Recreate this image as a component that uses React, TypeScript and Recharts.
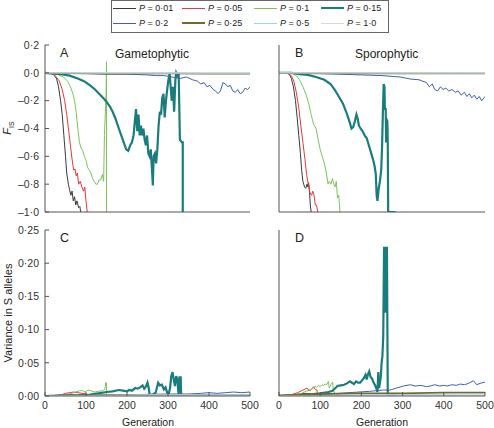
import React from 'react';
import { LineChart, Line, XAxis, YAxis } from 'recharts';

type Pt = [number, number];

// series labels (value of P)
const pLabels = ['0·01', '0·05', '0·1', '0·15', '0·2', '0·25', '0·5', '1·0'];

// x axis: generation
const genTicks = [0, 100, 200, 300, 400, 500];
const fisTicks = [-1, -0.8, -0.6, -0.4, -0.2, 0, 0.2];
const varTicks = [0, 0.05, 0.1, 0.15, 0.2, 0.25];

// ---- A: gametophytic, F_IS ----
const gamF01: Pt[] = [[0, 0], [10, 0], [20, -0.01], [28, -0.04], [33, -0.1], [38, -0.2], [42, -0.3], [46, -0.45], [50, -0.6], [53, -0.72], [57, -0.8], [60, -0.84], [63, -0.88], [66, -0.85], [69, -0.92], [72, -0.89], [75, -0.95], [78, -0.92], [82, -0.97], [85, -0.96], [87, -1]];
const gamF05: Pt[] = [[0, 0], [15, 0], [25, -0.02], [35, -0.06], [42, -0.12], [48, -0.2], [53, -0.3], [58, -0.42], [62, -0.52], [66, -0.62], [70, -0.7], [73, -0.69], [76, -0.74], [79, -0.72], [82, -0.8], [86, -0.78], [90, -0.82], [94, -0.85], [97, -0.82], [100, -0.92], [103, -1]];
const gamF1: Pt[] = [[0, 0], [30, -0.01], [45, -0.03], [55, -0.06], [62, -0.1], [68, -0.15], [72, -0.2], [76, -0.28], [80, -0.4], [84, -0.5], [88, -0.54], [92, -0.56], [96, -0.6], [100, -0.63], [104, -0.68], [108, -0.7], [112, -0.72], [116, -0.76], [120, -0.78], [124, -0.8], [128, -0.8], [132, -0.77], [136, -0.77], [140, -0.73], [143, -0.78], [145, -0.45], [147, -0.3], [149, -0.15], [150, 0.08], [150, -1]];
const gamF15: Pt[] = [[0, 0], [20, -0.005], [40, -0.01], [60, -0.02], [80, -0.04], [95, -0.06], [110, -0.09], [122, -0.12], [135, -0.16], [148, -0.2], [158, -0.24], [165, -0.28], [172, -0.33], [180, -0.4], [186, -0.45], [192, -0.5], [198, -0.55], [203, -0.56], [208, -0.52], [212, -0.5], [216, -0.45], [219, -0.35], [222, -0.26], [225, -0.42], [228, -0.3], [231, -0.45], [234, -0.38], [237, -0.45], [240, -0.4], [243, -0.48], [246, -0.52], [249, -0.45], [252, -0.58], [255, -0.6], [258, -0.55], [261, -0.7], [263, -0.81], [265, -0.6], [268, -0.58], [271, -0.65], [274, -0.55], [277, -0.38], [280, -0.28], [283, -0.3], [286, -0.18], [289, -0.15], [292, -0.32], [295, -0.2], [298, -0.12], [301, -0.05], [304, 0], [306, -0.08], [309, -0.2], [312, -0.1], [315, -0.28], [318, -0.05], [320, 0], [323, -0.02], [326, 0], [329, -0.48], [334, -0.5], [336, -0.5], [336, -1]];
const gamF2: Pt[] = [[0, 0], [50, -0.005], [100, -0.005], [150, -0.01], [200, -0.01], [250, -0.015], [270, -0.02], [290, -0.02], [310, -0.03], [330, -0.04], [345, -0.03], [360, -0.05], [372, -0.06], [380, -0.08], [388, -0.07], [395, -0.1], [402, -0.09], [410, -0.12], [416, -0.13], [422, -0.15], [428, -0.13], [434, -0.07], [440, -0.08], [446, -0.1], [452, -0.09], [458, -0.13], [464, -0.14], [470, -0.12], [476, -0.15], [482, -0.14], [488, -0.11], [494, -0.12], [500, -0.1]];
const gamF25: Pt[] = [[0, 0], [100, -0.004], [200, -0.005], [300, -0.004], [400, -0.005], [500, -0.005]];
const gamF5: Pt[] = [[0, 0], [150, -0.002], [300, -0.003], [500, -0.003]];
const gamF10: Pt[] = [[0, 0], [250, 0], [500, 0]];

// ---- B: sporophytic, F_IS ----
const spoF01: Pt[] = [[0, 0], [15, 0], [25, -0.01], [30, -0.04], [35, -0.1], [40, -0.2], [44, -0.32], [48, -0.45], [52, -0.58], [55, -0.7], [58, -0.78], [62, -0.82], [65, -0.83], [68, -0.8], [70, -0.82], [72, -0.79], [74, -0.85], [76, -0.95], [78, -1]];
const spoF05: Pt[] = [[0, 0], [20, 0], [30, -0.02], [36, -0.06], [42, -0.14], [48, -0.25], [53, -0.38], [58, -0.5], [63, -0.62], [67, -0.73], [71, -0.8], [75, -0.86], [79, -0.88], [82, -0.85], [85, -0.88], [88, -0.95], [91, -0.95], [94, -1]];
const spoF1: Pt[] = [[0, 0], [30, 0], [42, -0.02], [50, -0.05], [58, -0.1], [65, -0.15], [72, -0.22], [78, -0.3], [84, -0.37], [90, -0.4], [95, -0.48], [100, -0.55], [105, -0.6], [110, -0.65], [115, -0.72], [119, -0.8], [122, -0.78], [126, -0.8], [130, -0.76], [133, -0.8], [136, -0.82], [139, -0.78], [142, -0.9], [145, -0.88], [148, -1]];
const spoF15: Pt[] = [[0, 0], [30, 0], [50, -0.01], [70, -0.015], [90, -0.03], [110, -0.05], [125, -0.08], [135, -0.12], [145, -0.17], [155, -0.22], [163, -0.28], [170, -0.34], [176, -0.4], [180, -0.39], [184, -0.35], [188, -0.3], [191, -0.33], [194, -0.38], [198, -0.4], [203, -0.42], [208, -0.45], [213, -0.47], [218, -0.52], [223, -0.57], [228, -0.62], [232, -0.67], [235, -0.73], [237, -0.88], [239, -0.92], [242, -0.83], [245, -0.78], [248, -0.7], [250, -0.55], [252, -0.3], [254, -0.08], [256, -0.1], [257, -0.26], [259, -0.26], [260, -0.5], [261, -0.33], [263, -0.35], [264, -0.5], [265, -1], [283, -1]];
const spoF2: Pt[] = [[0, 0], [50, 0], [100, -0.005], [150, -0.01], [200, -0.015], [250, -0.02], [294, -0.03], [320, -0.045], [340, -0.05], [358, -0.07], [365, -0.1], [372, -0.08], [378, -0.12], [385, -0.13], [392, -0.1], [398, -0.12], [405, -0.11], [412, -0.13], [420, -0.12], [428, -0.14], [435, -0.13], [442, -0.16], [450, -0.14], [456, -0.17], [462, -0.15], [468, -0.18], [474, -0.16], [480, -0.19], [486, -0.17], [492, -0.2], [500, -0.17]];
const spoF25: Pt[] = [[0, 0], [100, -0.003], [200, -0.004], [300, -0.004], [400, -0.004], [500, -0.004]];
const spoF5: Pt[] = [[0, 0], [250, -0.002], [500, -0.002]];
const spoF10: Pt[] = [[0, 0], [250, 0], [500, 0]];

// ---- C: gametophytic, variance in S alleles ----
const gamV01: Pt[] = [[0, 0], [20, 0.0005], [40, 0.001], [60, 0.002], [80, 0.001], [87, 0.001]];
const gamV05: Pt[] = [[0, 0], [20, 0.0005], [40, 0.002], [50, 0.004], [60, 0.005], [70, 0.006], [80, 0.005], [90, 0.004], [100, 0.003], [103, 0.002]];
const gamV1: Pt[] = [[0, 0], [30, 0.001], [50, 0.002], [65, 0.004], [75, 0.006], [85, 0.008], [92, 0.008], [98, 0.006], [105, 0.009], [112, 0.008], [120, 0.006], [130, 0.007], [140, 0.008], [146, 0.01], [148, 0.02], [150, 0.02], [150, 0.001]];
const gamV15: Pt[] = [[0, 0], [40, 0.0005], [80, 0.001], [110, 0.002], [130, 0.004], [150, 0.006], [165, 0.007], [180, 0.009], [190, 0.008], [200, 0.007], [205, 0.009], [212, 0.008], [220, 0.012], [226, 0.011], [232, 0.013], [238, 0.016], [242, 0.011], [246, 0.014], [250, 0.02], [253, 0.012], [255, 0.003], [260, 0.001], [265, 0.003], [270, 0.005], [276, 0.02], [280, 0.016], [285, 0.017], [290, 0.01], [294, 0.013], [298, 0.005], [302, 0.004], [305, 0.012], [308, 0.03], [311, 0.036], [314, 0.025], [317, 0.015], [320, 0.03], [323, 0.024], [326, 0.001], [328, 0.028], [331, 0.028], [332, 0.001], [336, 0]];
const gamV2: Pt[] = [[0, 0], [100, 0.001], [200, 0.002], [300, 0.003], [350, 0.003], [380, 0.004], [400, 0.005], [420, 0.004], [440, 0.005], [460, 0.006], [480, 0.005], [500, 0.006]];
const gamV25: Pt[] = [[0, 0], [100, 0.001], [200, 0.0015], [300, 0.0015], [400, 0.0015], [500, 0.0015]];
const gamV5: Pt[] = [[0, 0], [250, 0.002], [500, 0.002]];
const gamV10: Pt[] = [[0, 0], [250, 0.001], [500, 0.001]];

// ---- D: sporophytic, variance in S alleles ----
const spoV01: Pt[] = [[0, 0], [30, 0.001], [50, 0.003], [65, 0.004], [75, 0.003], [78, 0.001]];
const spoV05: Pt[] = [[0, 0], [30, 0.002], [45, 0.005], [55, 0.008], [62, 0.01], [68, 0.012], [72, 0.009], [76, 0.008], [80, 0.011], [84, 0.014], [88, 0.01], [92, 0.009], [94, 0.001]];
const spoV1: Pt[] = [[0, 0], [40, 0.002], [55, 0.004], [65, 0.007], [75, 0.009], [82, 0.011], [88, 0.015], [92, 0.013], [96, 0.016], [100, 0.014], [104, 0.017], [108, 0.016], [112, 0.018], [116, 0.017], [120, 0.022], [122, 0.012], [126, 0.017], [130, 0.021], [132, 0.008], [136, 0.004], [142, 0.002], [148, 0.001]];
const spoV15: Pt[] = [[0, 0], [40, 0.001], [70, 0.002], [100, 0.004], [120, 0.006], [130, 0.008], [137, 0.012], [142, 0.015], [150, 0.016], [158, 0.017], [165, 0.019], [172, 0.022], [177, 0.02], [182, 0.018], [187, 0.022], [192, 0.02], [197, 0.02], [202, 0.024], [206, 0.027], [210, 0.032], [213, 0.025], [216, 0.033], [219, 0.037], [222, 0.029], [226, 0.026], [230, 0.02], [234, 0.015], [237, 0.01], [239, 0.006], [241, 0.036], [243, 0.012], [245, 0.02], [247, 0.028], [249, 0.05], [251, 0.06], [253, 0.09], [255, 0.223], [257, 0.223], [257, 0.127], [260, 0.127], [260, 0.223], [262, 0.223], [264, 0.001], [283, 0.001]];
const spoV2: Pt[] = [[0, 0], [50, 0.001], [100, 0.002], [170, 0.005], [220, 0.007], [253, 0.009], [270, 0.009], [285, 0.012], [302, 0.015], [319, 0.017], [330, 0.015], [345, 0.016], [358, 0.014], [367, 0.015], [378, 0.017], [390, 0.015], [400, 0.016], [408, 0.015], [420, 0.017], [430, 0.016], [440, 0.018], [450, 0.017], [460, 0.019], [472, 0.023], [480, 0.017], [488, 0.019], [500, 0.021]];
const spoV25: Pt[] = [[0, 0.001], [100, 0.003], [200, 0.004], [300, 0.004], [400, 0.005], [500, 0.005]];
const spoV5: Pt[] = [[0, 0], [250, 0.002], [500, 0.003]];
const spoV10: Pt[] = [[0, 0], [250, 0.001], [500, 0.001]];

const panelA = [gamF01, gamF05, gamF1, gamF15, gamF2, gamF25, gamF5, gamF10];
const panelB = [spoF01, spoF05, spoF1, spoF15, spoF2, spoF25, spoF5, spoF10];
const panelC = [gamV01, gamV05, gamV1, gamV15, gamV2, gamV25, gamV5, gamV10];
const panelD = [spoV01, spoV05, spoV1, spoV15, spoV2, spoV25, spoV5, spoV10];

// line styles, same order as pLabels
const lineStyles = [
  { color: '#3a3a3a', width: 1 },
  { color: '#e5383b', width: 1 },
  { color: '#7cc35a', width: 1 },
  { color: '#1b7c7e', width: 2.2 },
  { color: '#4460ad', width: 1 },
  { color: '#6e6b2c', width: 1.8 },
  { color: '#9dd3ee', width: 1 },
  { color: '#d8d8d8', width: 1 },
];

const FONT = '"Liberation Sans", Arial, sans-serif';
const tickStyle = { fontSize: 10.5, fill: '#333', fontFamily: FONT };

const fmt = (digits: number) => (v: number) =>
  (v < 0 ? '\u2013' : '') + Math.abs(v).toFixed(digits).replace('.', '\u00b7');

interface PanelProps {
  left: number;
  top: number;
  width: number;
  height: number;
  plotHeight: number;
  series: Pt[][];
  domain: [number, number];
  yTicks: number[];
  digits: number;
  xLabels: boolean;
  yLabels: boolean;
}

// plot area ends 15px before the chart's right edge so the "500" label fits
const Panel: React.FC<PanelProps> = ({ left, top, width, height, plotHeight, series, domain, yTicks, digits, xLabels, yLabels }) => (
  <div style={{ position: 'absolute', left, top }}>
    <LineChart width={width} height={height} margin={{ top: 5, right: 15, left: 0, bottom: 0 }}>
      <XAxis
        dataKey="g"
        type="number"
        domain={[0, 500]}
        ticks={genTicks}
        allowDataOverflow
        height={height - 5 - plotHeight}
        tickSize={-4}
        tickMargin={10}
        stroke="#555"
        tick={xLabels ? tickStyle : false}
        interval={0}
      />
      <YAxis
        type="number"
        domain={domain}
        ticks={yTicks}
        allowDataOverflow
        width={45}
        tickSize={-4}
        tickMargin={10}
        stroke="#555"
        tick={yLabels ? tickStyle : false}
        tickFormatter={fmt(digits)}
        interval={0}
      />
      {series.map((pts, i) => (
        <Line
          key={pLabels[i]}
          data={pts.map(([g, v]) => ({ g, v }))}
          dataKey="v"
          type="linear"
          stroke={lineStyles[i].color}
          strokeWidth={lineStyles[i].width}
          dot={false}
          activeDot={false}
          isAnimationActive={false}
        />
      ))}
    </LineChart>
  </div>
);

const legendCols = [113, 182, 254, 321];
const legendRows = [8, 23];

const abs = (left: number, top: number, extra: React.CSSProperties = {}): React.CSSProperties => ({
  position: 'absolute',
  left,
  top,
  whiteSpace: 'nowrap',
  ...extra,
});

export default function App() {
  return (
    <div style={{ position: 'absolute', left: 0, top: 0, width: 494, height: 428, overflow: 'hidden', background: '#fff', fontFamily: FONT, color: '#222' }}>
      {/* legend */}
      <div style={abs(111, 0, { width: 276, height: 31, border: '1px solid #666' })} />
      {pLabels.map((lab, i) => (
        <div
          key={lab}
          style={abs(legendCols[i % 4], legendRows[Math.floor(i / 4)] - 6, { display: 'flex', alignItems: 'center', height: 12, fontSize: 9 })}
        >
          <span style={{ display: 'inline-block', width: 23, height: lineStyles[i].width, background: lineStyles[i].color }} />
          <span style={{ marginLeft: 3 }}>
            <i>P</i> = {lab}
          </span>
        </div>
      ))}

      <Panel left={0} top={40} width={265} height={185} plotHeight={167} series={panelA} domain={[-1, 0.2]} yTicks={fisTicks} digits={1} xLabels={false} yLabels />
      <Panel left={234} top={40} width={266} height={185} plotHeight={167} series={panelB} domain={[-1, 0.2]} yTicks={fisTicks} digits={1} xLabels={false} yLabels={false} />
      <Panel left={0} top={225} width={265} height={200} plotHeight={166} series={panelC} domain={[0, 0.25]} yTicks={varTicks} digits={2} xLabels yLabels />
      <Panel left={234} top={225} width={266} height={200} plotHeight={166} series={panelD} domain={[0, 0.25]} yTicks={varTicks} digits={2} xLabels yLabels={false} />

      {/* panel letters and titles */}
      <div style={abs(60, 46, { fontSize: 12.5 })}>A</div>
      <div style={abs(115, 47, { fontSize: 12 })}>Gametophytic</div>
      <div style={abs(295, 46, { fontSize: 12.5 })}>B</div>
      <div style={abs(355, 47, { fontSize: 12 })}>Sporophytic</div>
      <div style={abs(60, 231, { fontSize: 12.5 })}>C</div>
      <div style={abs(295, 231, { fontSize: 12.5 })}>D</div>

      {/* axis titles */}
      <div style={abs(8, 128, { fontSize: 11, transform: 'translate(-50%, -50%) rotate(-90deg)' })}>
        <i>F</i>
        <sub style={{ fontSize: 7 }}>IS</sub>
      </div>
      <div style={abs(8, 313, { fontSize: 11, transform: 'translate(-50%, -50%) rotate(-90deg)' })}>Variance in S alleles</div>
      <div style={abs(148, 422, { fontSize: 10.5, transform: 'translate(-50%, -50%)' })}>Generation</div>
      <div style={abs(382, 422, { fontSize: 10.5, transform: 'translate(-50%, -50%)' })}>Generation</div>
    </div>
  );
}
